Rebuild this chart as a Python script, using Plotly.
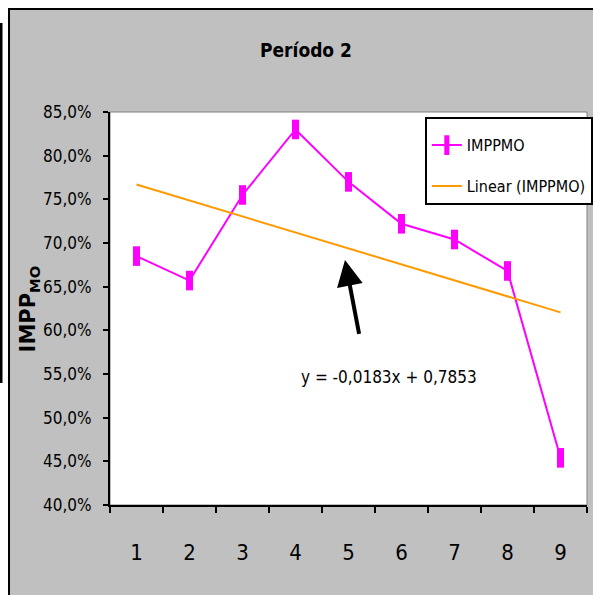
import plotly.graph_objects as go

# Period 2 values of IMPPMO per observation
periods = ["1", "2", "3", "4", "5", "6", "7", "8", "9"]
imppmo = [0.685, 0.657, 0.755, 0.830, 0.770, 0.722, 0.704, 0.668, 0.454]

# Linear trend coefficients (y = slope*x + intercept)
trend_slope = -0.0183
trend_intercept = 0.7853

title_text = "Período 2"
y_title = "<b>IMPP<sub>MO</sub></b>"
equation_text = "y = -0,0183x + 0,7853"

NARROW = "DejaVu Sans Condensed, Liberation Sans Narrow, Liberation Sans, Arial"
MAGENTA = "#FF00FF"
ORANGE = "#FF9900"

trend_x = [periods[0], periods[-1]]
trend_y = [trend_slope * int(p) + trend_intercept for p in trend_x]

fig = go.Figure()

fig.add_trace(go.Scatter(
    x=periods, y=imppmo, mode="lines+markers", name="IMPPMO",
    line=dict(color=MAGENTA, width=2),
    marker=dict(symbol="line-ns", size=14, color=MAGENTA,
                line=dict(color=MAGENTA, width=7)),
    legendgroup="a",
))
fig.add_trace(go.Scatter(
    x=trend_x, y=trend_y, mode="lines", name="Linear (IMPPMO)",
    line=dict(color=ORANGE, width=2),
    legendgroup="b",
))

# chart frame and plot area background
shapes = [
    dict(type="rect", xref="paper", yref="paper", layer="below",
         x0=-0.2117, x1=1.05, y0=-0.26, y1=1.262,
         fillcolor="#C0C0C0", line=dict(color="black", width=2)),
    dict(type="rect", xref="paper", yref="paper", layer="below",
         x0=0, x1=1, y0=0, y1=1,
         fillcolor="white", line=dict(color="#808080", width=1)),
    dict(type="line", xref="paper", yref="paper",
         x0=-0.2285, x1=-0.2285, y0=0.3104, y1=1.2265,
         line=dict(color="black", width=3)),
]

annotations = [
    dict(xref="paper", yref="paper", x=-0.17, y=0.50, text=y_title,
         xanchor="center", yanchor="middle",
         textangle=-90, showarrow=False,
         font=dict(family="DejaVu Sans, Arial", size=21, color="black")),
    dict(x=4.764, y=0.5466, text=equation_text, showarrow=False,
         font=dict(family=NARROW, size=17, color="black")),
    dict(x=3.934, y=0.6806, text=" ", showarrow=True,
         ax=16, ay=84, arrowhead=2, arrowsize=1.3, arrowwidth=4,
         arrowcolor="black", standoff=0),
]

fig.update_layout(
    width=593, height=595,
    margin=dict(l=110, r=6, t=112, b=90, autoexpand=False),
    paper_bgcolor="white",
    plot_bgcolor="rgba(0,0,0,0)",
    separators=",.",
    title=dict(text="<b>" + title_text + "</b>", xref="container", yref="container",
               x=0.516, y=0.916, xanchor="center", yanchor="middle",
               font=dict(family=NARROW, size=19, color="black")),
    showlegend=True,
    legend=dict(x=0.660, y=0.987, xanchor="left", yanchor="top",
                bgcolor="white", bordercolor="black", borderwidth=2,
                font=dict(family=NARROW, size=16, color="black"),
                title=dict(text=" ", font=dict(size=7)),
                traceorder="grouped", tracegroupgap=17,
                itemwidth=30),
    shapes=shapes,
    annotations=annotations,
    xaxis=dict(type="category", tickson="boundaries", ticks="outside",
               ticklen=6, tickwidth=2, tickcolor="black",
               showline=True, linecolor="black", linewidth=2,
               showgrid=False, zeroline=False, ticklabelstandoff=27,
               tickfont=dict(family=NARROW, size=22, color="black"),
               range=[-0.5, 8.5]),
    yaxis=dict(range=[0.40, 0.85], dtick=0.05, tickformat=".1%",
               ticks="outside", ticklen=5, tickwidth=2, tickcolor="black",
               showline=True, linecolor="black", linewidth=2,
               showgrid=False, zeroline=False, ticklabelstandoff=8,
               tickfont=dict(family=NARROW, size=17, color="black")),
)

fig.write_html("out.html")
